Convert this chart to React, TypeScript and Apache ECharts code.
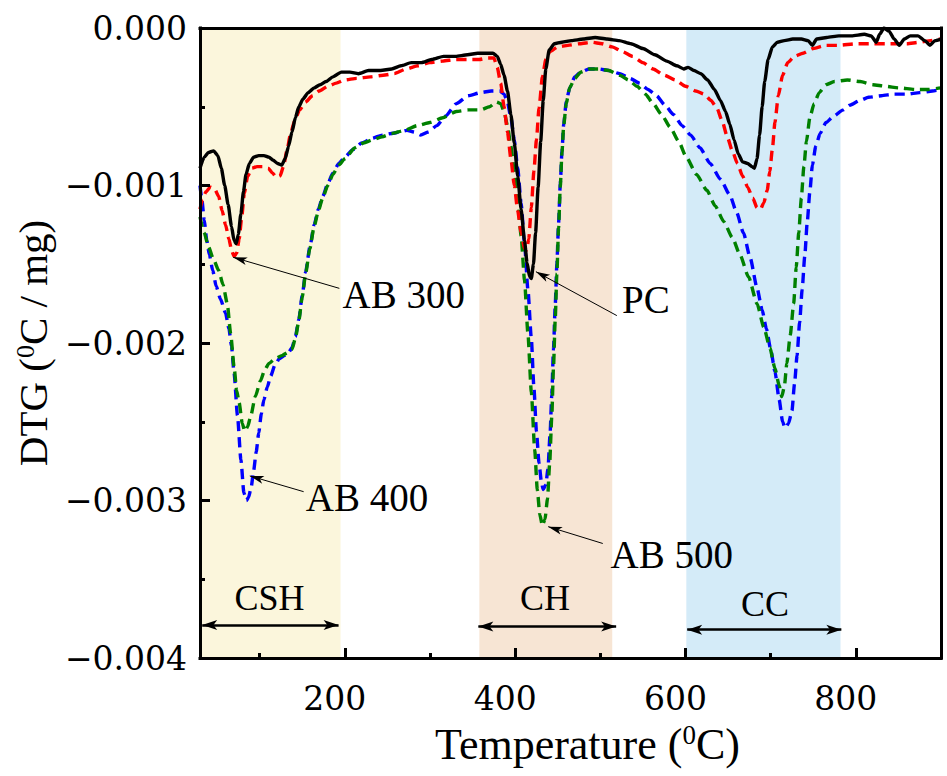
import React, { useEffect, useRef } from "react";
import * as echarts from "echarts";

// Temperature (°C) and DTG (°C / mg) pairs
const PC: [number, number][] = [
  [30,-0.00089],[35,-0.00082],[40,-0.00079],[46,-0.00078],[51,-0.00081],[55,-0.00089],[59,-0.00100],[63,-0.00112],[67,-0.00126],[70,-0.00135],[72.5,-0.00137],[75,-0.00131],[78,-0.00118],[81,-0.00104],[84,-0.00093],[88,-0.00086],[93,-0.00082],[99,-0.00081],[105,-0.00081],[111,-0.00082],[116,-0.00084],[121,-0.00086],[126,-0.00087],[130,-0.00083],[134,-0.00075],[138,-0.00066],[142,-0.00057],[146,-0.00050],[151,-0.00045],[157,-0.00041],[164,-0.00038],[171,-0.00036],[178,-0.00034],[186,-0.00031],[196,-0.00028],[206,-0.00028],[216,-0.00029],[228,-0.00027],[242,-0.00027],[255,-0.00026],[266,-0.00024],[278,-0.00022],[290,-0.00022],[302,-0.00020],[316,-0.00018],[330,-0.00018],[344,-0.00017],[356,-0.00016],[366,-0.00016],[374,-0.00016],[379,-0.00018],[383,-0.00023],[387,-0.00030],[391,-0.00040],[395,-0.00055],[399,-0.00073],[403,-0.00094],[407,-0.00115],[411,-0.00135],[414,-0.00149],[417,-0.00158],[419,-0.00159],[421.5,-0.00150],[424,-0.00130],[427,-0.00101],[430,-0.00072],[433,-0.00046],[436,-0.00026],[440,-0.00014],[446,-0.00010],[455,-0.00009],[466,-0.00008],[480,-0.00007],[494,-0.00006],[508,-0.00007],[522,-0.00008],[536,-0.00010],[550,-0.00013],[564,-0.00017],[578,-0.00021],[590,-0.00024],[598,-0.00026],[603,-0.00025],[610,-0.00027],[618,-0.00029],[626,-0.00033],[634,-0.00039],[641,-0.00046],[647,-0.00053],[652,-0.00061],[657,-0.00071],[662,-0.00080],[667,-0.00085],[673,-0.00086],[678,-0.00088],[681,-0.00089],[684,-0.00083],[687,-0.00068],[690,-0.00050],[693,-0.00034],[697,-0.00020],[702,-0.00012],[708,-0.00009],[716,-0.00008],[726,-0.00007],[736,-0.00007],[744,-0.00008],[749,-0.00011],[754,-0.00007],[766,-0.00006],[780,-0.00005],[795,-0.00005],[810,-0.00004],[818,-0.00005],[824,-0.00009],[828,-0.00004],[833,0.00000],[839,-0.00002],[845,-0.00007],[851,-0.00011],[857,-0.00007],[864,-0.00005],[873,-0.00005],[881,-0.00008],[887,-0.00011],[893,-0.00008],[900,-0.00007]
];

const AB300: [number, number][] = [
  [30,-0.00115],[33,-0.00109],[37,-0.00104],[42,-0.00101],[47,-0.00102],[52,-0.00107],[56,-0.00116],[60,-0.00125],[64,-0.00134],[67,-0.00141],[70,-0.00145],[73,-0.00143],[76,-0.00134],[79,-0.00120],[82,-0.00105],[86,-0.00094],[91,-0.00089],[97,-0.00088],[104,-0.00088],[110,-0.00089],[115,-0.00092],[120,-0.00095],[124,-0.00094],[128,-0.00088],[132,-0.00078],[136,-0.00068],[141,-0.00059],[147,-0.00052],[154,-0.00047],[162,-0.00043],[170,-0.00040],[180,-0.00037],[190,-0.00035],[200,-0.00033],[214,-0.00032],[230,-0.00031],[245,-0.00030],[258,-0.00029],[272,-0.00026],[286,-0.00024],[300,-0.00022],[315,-0.00021],[330,-0.00020],[345,-0.00020],[358,-0.00020],[368,-0.00019],[375,-0.00019],[379,-0.00025],[383,-0.00035],[387,-0.00050],[391,-0.00066],[395,-0.00083],[399,-0.00100],[403,-0.00116],[407,-0.00130],[411,-0.00140],[413.5,-0.00141],[416,-0.00134],[419,-0.00114],[422,-0.00091],[425,-0.00071],[428,-0.00051],[432,-0.00031],[436,-0.00020],[441,-0.00015],[450,-0.00012],[462,-0.00011],[476,-0.00010],[490,-0.00009],[502,-0.00010],[514,-0.00012],[526,-0.00015],[538,-0.00018],[550,-0.00022],[562,-0.00026],[575,-0.00030],[588,-0.00033],[600,-0.00037],[612,-0.00040],[622,-0.00042],[630,-0.00046],[637,-0.00051],[643,-0.00059],[649,-0.00069],[655,-0.00078],[661,-0.00086],[667,-0.00094],[673,-0.00101],[679,-0.00108],[684,-0.00114],[688,-0.00115],[692,-0.00111],[696,-0.00103],[699,-0.00091],[702,-0.00077],[705,-0.00060],[709,-0.00043],[714,-0.00030],[720,-0.00022],[728,-0.00018],[738,-0.00016],[750,-0.00013],[765,-0.00011],[780,-0.00011],[800,-0.00010],[820,-0.00010],[840,-0.00010],[860,-0.00010],[875,-0.00009],[888,-0.00008],[900,-0.00007]
];

const AB400: [number, number][] = [
  [30,-0.00100],[32,-0.00108],[35,-0.00122],[38,-0.00135],[41,-0.00144],[45,-0.00154],[49,-0.00164],[54,-0.00172],[60,-0.00181],[64,-0.00191],[67,-0.00202],[70,-0.00219],[74,-0.00246],[78,-0.00274],[81.5,-0.00295],[84.5,-0.00300],[87,-0.00298],[90,-0.00292],[93,-0.00281],[96,-0.00269],[99,-0.00257],[102,-0.00245],[105,-0.00236],[109,-0.00228],[113,-0.00221],[118,-0.00214],[123,-0.00210],[129,-0.00208],[134,-0.00206],[138,-0.00203],[142,-0.00196],[146,-0.00185],[150,-0.00170],[154,-0.00155],[159,-0.00139],[164,-0.00125],[169,-0.00115],[174,-0.00107],[180,-0.00099],[186,-0.00092],[193,-0.00086],[200,-0.00082],[210,-0.00077],[220,-0.00073],[232,-0.00070],[244,-0.00068],[255,-0.00067],[265,-0.00066],[273,-0.00065],[281,-0.00066],[289,-0.00068],[298,-0.00066],[308,-0.00062],[318,-0.00056],[331,-0.00048],[345,-0.00043],[360,-0.00041],[372,-0.00040],[382,-0.00040],[387,-0.00042],[391,-0.00047],[395,-0.00057],[399,-0.00071],[403,-0.00089],[407,-0.00111],[411,-0.00137],[415,-0.00166],[419,-0.00197],[422,-0.00228],[425,-0.00256],[428,-0.00276],[431,-0.00289],[433,-0.00293],[436,-0.00290],[438.5,-0.00280],[441,-0.00258],[443,-0.00233],[445,-0.00204],[447,-0.00177],[449,-0.00150],[451,-0.00124],[453,-0.00099],[455,-0.00078],[457,-0.00061],[460,-0.00047],[464,-0.00038],[470,-0.00031],[477,-0.00028],[487,-0.00026],[498,-0.00026],[510,-0.00027],[523,-0.00029],[535,-0.00032],[546,-0.00035],[556,-0.00039],[566,-0.00043],[576,-0.00049],[586,-0.00055],[596,-0.00062],[606,-0.00068],[617,-0.00076],[629,-0.00086],[641,-0.00096],[652,-0.00106],[660,-0.00117],[668,-0.00130],[676,-0.00146],[684,-0.00165],[690,-0.00179],[695,-0.00191],[700,-0.00204],[705,-0.00218],[710,-0.00236],[714,-0.00250],[717,-0.00254],[721,-0.00251],[725,-0.00243],[728,-0.00226],[731,-0.00208],[734,-0.00187],[737,-0.00166],[740,-0.00145],[743,-0.00123],[746,-0.00104],[749,-0.00087],[753,-0.00075],[758,-0.00067],[765,-0.00060],[774,-0.00056],[785,-0.00052],[793,-0.00049],[805,-0.00046],[815,-0.00044],[830,-0.00043],[845,-0.00042],[860,-0.00042],[875,-0.00041],[890,-0.00040],[900,-0.00039]
];

const AB500: [number, number][] = [
  [30,-0.00120],[35,-0.00130],[40,-0.00139],[46,-0.00147],[52,-0.00154],[57,-0.00163],[62,-0.00175],[66,-0.00194],[70,-0.00215],[73,-0.00230],[76,-0.00238],[79.6,-0.00251],[82.6,-0.00256],[86,-0.00253],[89.3,-0.00247],[95,-0.00234],[101,-0.00224],[106,-0.00217],[111,-0.00213],[118,-0.00210],[126,-0.00208],[133,-0.00206],[138,-0.00204],[142,-0.00197],[146,-0.00186],[150,-0.00171],[154,-0.00156],[159,-0.00140],[164,-0.00126],[169,-0.00116],[174,-0.00108],[180,-0.00100],[186,-0.00093],[193,-0.00087],[200,-0.00083],[212,-0.00076],[222,-0.00073],[233,-0.00071],[244,-0.00069],[255,-0.00067],[270,-0.00065],[285,-0.00062],[300,-0.00060],[315,-0.00057],[331,-0.00053],[345,-0.00052],[359,-0.00052],[370,-0.00050],[378,-0.00047],[383,-0.00048],[387,-0.00053],[391,-0.00062],[395,-0.00075],[399,-0.00091],[403,-0.00109],[407,-0.00132],[411,-0.00160],[415,-0.00194],[419,-0.00231],[423,-0.00268],[426,-0.00293],[429,-0.00309],[432,-0.00316],[435,-0.00312],[438,-0.00299],[440.5,-0.00277],[443,-0.00247],[445,-0.00216],[447,-0.00186],[449,-0.00156],[451,-0.00127],[453,-0.00101],[455,-0.00079],[457,-0.00062],[460,-0.00048],[464,-0.00038],[470,-0.00032],[477,-0.00028],[487,-0.00026],[498,-0.00026],[510,-0.00027],[523,-0.00030],[533,-0.00033],[543,-0.00037],[553,-0.00042],[562,-0.00048],[572,-0.00055],[582,-0.00063],[592,-0.00072],[601,-0.00082],[613,-0.00093],[625,-0.00103],[635,-0.00113],[645,-0.00123],[655,-0.00133],[664,-0.00144],[674,-0.00158],[684,-0.00175],[692,-0.00190],[699,-0.00203],[705,-0.00216],[710,-0.00227],[713,-0.00234],[716,-0.00228],[719,-0.00213],[723,-0.00195],[727,-0.00175],[730,-0.00152],[733,-0.00130],[736,-0.00108],[739,-0.00088],[742,-0.00072],[746,-0.00057],[751,-0.00048],[757,-0.00041],[765,-0.00036],[775,-0.00034],[790,-0.00033],[805,-0.00034],[820,-0.00036],[835,-0.00037],[850,-0.00038],[870,-0.00039],[885,-0.00039],[900,-0.00038]
];

// Axis ranges and tick values
const X_MIN = 30;
const X_MAX = 900;
const Y_MIN = -0.004;
const Y_MAX = 0;
const xMajorTicks = [200, 400, 600, 800];
const xMinorTicks = [100, 300, 500, 700];

// Decomposition regions (°C)
const regionNames = ["CSH", "CH", "CC"];
const regionFrom = [30, 358, 601];
const regionTo = [195, 514, 782];
const regionColors = ["#FBF6DC", "#F7E5D4", "#D4EBF8"];
// Region label anchors [T, DTG]
const regionLabelPos: [number, number][] = [[111.5, -0.00362], [435, -0.00362], [693.5, -0.003655]];
// Region double arrows [T1, T2, DTG]
const regionArrows: [number, number, number][] = [[32.6, 192.7, -0.00379], [356.8, 518.6, -0.0038], [602, 783, -0.00382]];

// Curve annotations: text, text anchor, arrow start, arrow tip
const annoTexts = ["AB 300", "PC", "AB 400", "AB 500"];
const annoTextPos: [number, number][] = [[196.7, -0.001695], [525, -0.001726], [153.7, -0.002981], [511.5, -0.003342]];
const annoArrowFrom: [number, number][] = [[193.6, -0.001653], [519.4, -0.001826], [151.7, -0.002944], [502.9, -0.003273]];
const annoArrowTo: [number, number][] = [[69, -0.001456], [424.4, -0.001547], [88.5, -0.002844], [438.8, -0.003166]];

const SERIF = "Liberation Serif";
const NUMFONT = "DejaVu Serif";

export default function App() {
  const ref = useRef<HTMLDivElement>(null);
  useEffect(() => {
    if (!ref.current) return;
    const chart = echarts.init(ref.current, null, { renderer: "svg" });

    const lineSeries = (name: string, data: [number, number][], color: string, dashed: boolean) => ({
      type: "line",
      name,
      data,
      z: 3,
      showSymbol: false,
      symbol: "none",
      smooth: 0.2,
      smoothMonotone: "x",
      silent: true,
      lineStyle: { color, width: dashed ? 3.4 : 3.4, type: dashed ? [10, 6] : "solid" },
    });

    const pc: any = lineSeries("PC", PC, "#000000", false);
    pc.z = 4;
    pc.markLine = {
      silent: true,
      animation: false,
      symbol: ["none", "arrow"],
      label: { show: false },
      emphasis: { disabled: true },
      lineStyle: { color: "#000", width: 1, type: "solid" },
      data: [
        ...annoTexts.map((_, i) => [
          { coord: annoArrowFrom[i], symbol: "none" },
          { coord: annoArrowTo[i], symbol: "arrow", symbolSize: [6, 14] },
        ]),
        ...regionArrows.map((a) => [
          { coord: [a[0], a[2]], symbol: "arrow", symbolSize: [7.5, 15], lineStyle: { width: 2.5 } },
          { coord: [a[1], a[2]], symbol: "arrow", symbolSize: [7.5, 15], lineStyle: { width: 2.5 } },
        ]),
      ],
    };
    pc.markPoint = {
      silent: true,
      animation: false,
      symbol: "circle",
      symbolSize: 1,
      itemStyle: { color: "rgba(0,0,0,0)" },
      label: {
        show: true,
        position: "right",
        distance: 0,
        color: "#000",
        fontFamily: SERIF,
        fontWeight: "normal",
        fontSize: 39,
        formatter: "{b}",
      },
      data: [
        ...annoTexts.map((t, i) => ({ name: t, coord: annoTextPos[i] })),
        ...regionNames.map((t, i) => ({
          name: t,
          coord: regionLabelPos[i],
          label: { position: "inside", fontSize: 36, align: "center", verticalAlign: "middle" },
        })),
      ],
    };

    const option: any = {
      animation: false,
      backgroundColor: "#ffffff",
      grid: { left: 200, top: 28, width: 741, height: 630, containLabel: false },
      xAxis: [
        {
          type: "value",
          min: X_MIN,
          max: X_MAX,
          position: "bottom",
          z: 10,
          axisLine: { show: true, onZero: false, lineStyle: { color: "#000", width: 3, cap: "square" } },
          axisTick: { show: true, inside: true, length: 10, customValues: xMajorTicks, lineStyle: { color: "#000", width: 3 } },
          axisLabel: {
            show: true,
            customValues: xMajorTicks,
            margin: 24,
            color: "#000",
            fontFamily: NUMFONT,
            fontSize: 33,
            padding: [0, 20, 0, 0],
          },
          splitLine: { show: false },
          name: "{t|Temperature (}{s|0}{t|C)}",
          nameLocation: "middle",
          nameGap: 63,
          nameTextStyle: {
            padding: [0, 0, 0, 34],
            rich: {
              t: { fontFamily: SERIF, fontSize: 44, fontWeight: "normal", lineHeight: 46, color: "#000" },
              s: { fontFamily: SERIF, fontSize: 27, fontWeight: "normal", lineHeight: 27, verticalAlign: "top", color: "#000" },
            },
          },
        },
        {
          type: "value",
          min: X_MIN,
          max: X_MAX,
          position: "bottom",
          z: 10,
          axisLine: { show: false, onZero: false },
          axisTick: { show: true, inside: true, length: 5, customValues: xMinorTicks, lineStyle: { color: "#000", width: 3 } },
          axisLabel: { show: false },
          splitLine: { show: false },
        },
        {
          type: "value",
          min: X_MIN,
          max: X_MAX,
          position: "top",
          z: 10,
          axisLine: { show: true, onZero: false, lineStyle: { color: "#000", width: 3, cap: "square" } },
          axisTick: { show: false },
          axisLabel: { show: false },
          splitLine: { show: false },
        },
      ],
      yAxis: [
        {
          type: "value",
          min: Y_MIN,
          max: Y_MAX,
          interval: 0.001,
          position: "left",
          z: 10,
          axisLine: { show: true, onZero: false, lineStyle: { color: "#000", width: 3, cap: "square" } },
          axisTick: { show: true, inside: true, length: 10, lineStyle: { color: "#000", width: 3 } },
          minorTick: { show: true, splitNumber: 2, length: 5, lineStyle: { color: "#000", width: 3 } },
          axisLabel: {
            margin: 13,
            color: "#000",
            fontFamily: NUMFONT,
            fontSize: 33,
            formatter: (v: number) => (Math.abs(v) < 1e-9 ? "0.000" : (v < 0 ? "\u2212" : "") + Math.abs(v).toFixed(3)),
          },
          splitLine: { show: false },
          minorSplitLine: { show: false },
          name: "{t|DTG (}{s|0}{t|C / mg)}",
          nameLocation: "middle",
          nameRotate: 90,
          nameGap: 140,
          nameTextStyle: {
            fontWeight: "normal",
            rich: {
              t: { fontFamily: SERIF, fontSize: 41, fontWeight: "normal", lineHeight: 42, color: "#000" },
              s: { fontFamily: SERIF, fontSize: 26, fontWeight: "normal", lineHeight: 26, verticalAlign: "top", color: "#000" },
            },
          },
        },
        {
          type: "value",
          min: Y_MIN,
          max: Y_MAX,
          position: "right",
          z: 10,
          axisLine: { show: true, onZero: false, lineStyle: { color: "#000", width: 3, cap: "square" } },
          axisTick: { show: false },
          axisLabel: { show: false },
          splitLine: { show: false },
        },
      ],
      series: [
        {
          type: "line",
          name: "regions",
          data: [[X_MIN, Y_MAX]],
          z: 1,
          symbol: "none",
          silent: true,
          lineStyle: { opacity: 0, width: 0 },
          markArea: {
            silent: true,
            animation: false,
            label: { show: false },
            data: regionNames.map((_, i) => [
              { xAxis: regionFrom[i], itemStyle: { color: regionColors[i] } },
              { xAxis: regionTo[i] },
            ]),
          },
        },
        lineSeries("AB 400", AB400, "#0000FF", true),
        lineSeries("AB 500", AB500, "#008000", true),
        lineSeries("AB 300", AB300, "#FF0000", true),
        pc,
      ],
    };

    chart.setOption(option);
    return () => chart.dispose();
  }, []);

  return <div ref={ref} style={{ position: "absolute", left: 0, top: 0, width: 947, height: 776 }} />;
}
